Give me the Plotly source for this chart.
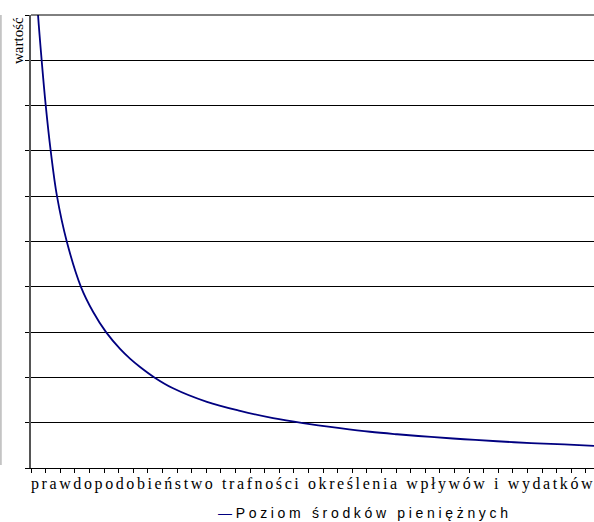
import plotly.graph_objects as go

# --- data (x in category-tick units, y in gridline units) ---
x_pos = [0.25, 0.46, 0.73, 1.01, 1.35, 1.78, 2.45, 3.42, 4.25, 5.14, 6.10, 6.80,
         7.47, 8.45, 9.73, 12.05, 14.32, 16.58, 18.63, 21.16, 23.22, 25.07,
         27.40, 29.66, 31.92, 34.25, 36.51, 38.56]
values = [11.3, 10.1, 9.0, 8.0, 7.0, 6.0, 5.0, 4.0, 3.45, 3.0, 2.63, 2.41,
          2.23, 2.0, 1.76, 1.46, 1.26, 1.10, 0.99, 0.88, 0.80, 0.745,
          0.685, 0.635, 0.59, 0.55, 0.52, 0.49]
x_ticks = list(range(0, 39))
y_ticks = list(range(0, 11))

series_name = "Poziom środków pieniężnych"
x_title = "prawdopodobieństwo trafności określenia wpływów i wydatków"
y_title = "wartość"

W, H = 594, 522
L, T, B, R = 31, 15, 54, 0
pw, ph = W - L - R, H - T - B


def px_x(px):
    return (px - L) / pw


def px_y(py):
    return (H - B - py) / ph


fig = go.Figure()
fig.add_trace(go.Scatter(
    x=x_pos, y=values, mode="lines", name=series_name,
    line=dict(color="#000080", width=1.8, shape="spline", smoothing=1.0),
    showlegend=False, cliponaxis=True,
))

fig.update_layout(
    width=W, height=H,
    margin=dict(l=L, r=R, t=T, b=B, autoexpand=False),
    paper_bgcolor="white", plot_bgcolor="white",
    showlegend=False,
    xaxis=dict(range=[0, 38.56], tickvals=x_ticks, showticklabels=False,
               ticks="outside", ticklen=4, tickcolor="black", tickwidth=1,
               showgrid=False, zeroline=False, showline=True,
               linecolor="black", linewidth=1),
    yaxis=dict(range=[0, 10], tickvals=y_ticks, showticklabels=False,
               ticks="outside", ticklen=4, tickcolor="black", tickwidth=1,
               showgrid=True, gridcolor="black", gridwidth=1,
               zeroline=False, showline=True, linecolor="#555555", linewidth=2),
    shapes=[
        dict(type="line", xref="paper", yref="paper", x0=0, x1=1, y0=1, y1=1,
             line=dict(color="black", width=1)),
        dict(type="line", xref="paper", yref="paper",
             x0=px_x(0.8), x1=px_x(0.8), y0=px_y(15), y1=px_y(465),
             line=dict(color="#c4c4c4", width=2)),
    ],
    annotations=[
        dict(text=y_title, xref="paper", yref="paper", x=px_x(17.5), y=1,
             xanchor="center", yanchor="top", textangle=-90, showarrow=False,
             font=dict(family="Liberation Serif", size=15, color="black")),
        dict(text=x_title, xref="paper", yref="paper", x=px_x(312), y=px_y(484),
             xanchor="center", yanchor="middle", showarrow=False,
             font=dict(family="Liberation Serif", size=16, color="black")),
        dict(text='<span style="color:#000080">—</span>' + series_name,
             xref="paper", yref="paper", x=px_x(363), y=px_y(513),
             xanchor="center", yanchor="middle", showarrow=False,
             font=dict(family="Liberation Sans", size=14, color="black")),
    ],
)

# spread the letters like the reference (letter-spaced labels)
post = """
var gd = document.getElementsByClassName('plotly-graph-div')[0];
function spread(idx, left, right){
  var t = gd.querySelector('g.annotation[data-index="' + idx + '"] text.annotation-text');
  if(!t) return;
  var o = gd.getBoundingClientRect();
  var n = t.textContent.length;
  t.setAttribute('text-anchor', 'start');
  t.style.textAnchor = 'start';
  t.style.letterSpacing = '0px';
  var w0 = t.getBoundingClientRect().width;
  var ls = Math.max(0, (right - left - w0) / (n - 1));
  t.style.letterSpacing = ls + 'px';
  var r = t.getBoundingClientRect();
  var x = parseFloat(t.getAttribute('x')) || 0;
  t.setAttribute('x', x + (left + o.left - r.left));
}
spread(1, 31, 593);
spread(2, 218, 508);
"""

fig.write_html("out.html", post_script=post)
